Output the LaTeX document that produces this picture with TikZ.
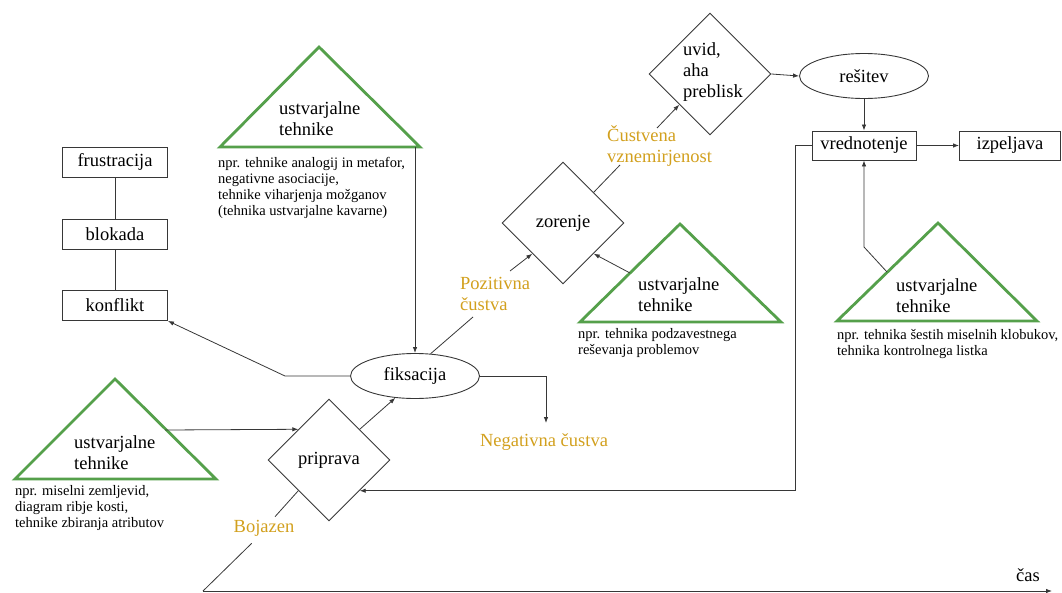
\documentclass[tikz,border=0pt]{standalone}
\usepackage{fontspec}
\setmainfont{Liberation Serif}
\newfontfamily\dfont{Liberation Serif}
\usetikzlibrary{shapes.geometric,arrows.meta}
\definecolor{gold}{RGB}{210,160,30}
\definecolor{tgreen}{RGB}{85,160,75}
\definecolor{ln}{RGB}{55,55,55}
\begin{document}
\begin{tikzpicture}[x=1pt,y=-1pt,
  mfont/.style={font=\dfont\fontsize{18.5}{21}\selectfont},
  box/.style={mfont, draw=ln, line width=0.9pt, rectangle, minimum width=105pt, minimum height=30pt, inner sep=0},
  ell/.style={mfont, draw=ln, line width=0.9pt, ellipse, minimum width=129pt, minimum height=45pt, inner sep=0},
  dia/.style={draw=ln, line width=0.9pt, diamond, minimum width=122pt, minimum height=122pt, inner sep=0},
  tri/.style={draw=tgreen, line width=2.8pt, line join=miter},
  conn/.style={draw=ln, line width=0.8pt},
  arr/.style={conn, -{Latex[length=6pt,width=4.5pt]}},
  glab/.style={mfont, text=gold},
  capt/.style={font=\dfont\fontsize{14.5}{16}\selectfont, align=left, anchor=west, inner sep=0},
  ttext/.style={mfont, align=left, anchor=west, inner sep=0}]
\path[use as bounding box] (0,0) rectangle (1062,592);

% boxes
\node[box] (frus) at (115,162) {frustracija};
\node[box] (blok) at (115,234) {blokada};
\node[box] (konf) at (115,305.5) {konflikt};
\node[ell] (fiks) at (415,376) {fiksacija};
\node[dia] (prip) at (329,460) {};
\node[mfont] (pript) at (329,460) {priprava};
\node[dia] (zor) at (563,223) {};
\node[mfont] (zort) at (563,223) {zorenje};
\node[dia] (uvid) at (710,74) {};
\node[ttext] (uvidt) at (683,72) {uvid,\\aha\\preblisk};
\node[ell] (res) at (864,76) {rešitev};
\node[box, minimum width=104pt, minimum height=29pt] (vred) at (864,145.5) {vrednotenje};
\node[box, minimum width=101pt, minimum height=29pt] (izp) at (1010,145.5) {izpeljava};

% triangles
\draw[tri] (319,47) -- (420,147) -- (220,147) -- cycle;
\node[ttext] (t1t) at (279,119) {ustvarjalne\\tehnike};
\node[capt] (t1c) at (218,187.5) {npr. tehnike analogij in metafor,\\negativne asociacije,\\tehnike viharjenja možganov\\(tehnika ustvarjalne kavarne)};

\draw[tri] (115,379) -- (216,479) -- (15,479) -- cycle;
\node[ttext] (t2t) at (74,453) {ustvarjalne\\tehnike};
\node[capt] (t2c) at (15,508) {npr. miselni zemljevid,\\diagram ribje kosti,\\tehnike zbiranja atributov};

\draw[tri] (680,224) -- (781,322) -- (580,322) -- cycle;
\node[ttext] (t3t) at (638,295) {ustvarjalne\\tehnike};
\node[capt] (t3c) at (578,343) {npr. tehnika podzavestnega\\reševanja problemov};

\draw[tri] (938,223) -- (1037,321) -- (837,321) -- cycle;
\node[ttext] (t4t) at (896,295.5) {ustvarjalne\\tehnike};
\node[capt] (t4c) at (837,344.5) {npr. tehnika šestih miselnih klobukov,\\tehnika kontrolnega listka};

% labels
\node[ttext, glab] (poz) at (460,294) {Pozitivna\\čustva};
\node[ttext, glab] (cus) at (607,146.5) {Čustvena\\vznemirjenost};
\node[glab] (neg) at (544,442) {Negativna čustva};
\node[glab] (boj) at (264,528) {Bojazen};
\node[mfont] (cas) at (1028,575) {čas};

% connectors
\draw[conn] (frus) -- (blok) -- (konf);
\coordinate (k1) at (285,376);
\draw[arr] (fiks.west) -- (k1) -- (konf.south east);
\coordinate (n1) at (546,376);
\coordinate (n2) at (546,423);
\draw[arr] (fiks.east) -- (n1) -- (n2);
\coordinate (t1b) at (415,147);
\draw[arr] (t1b) -- (fiks.north);
\coordinate (t2r) at (165,430);
\draw[arr] (t2r) -- (prip.north west);
\draw[arr] (prip.north east) -- (fiks.228);
\coordinate (p1) at (473,317);
\coordinate (p2) at (510,271);
\draw[conn] (fiks.55) -- (p1);
\draw[arr] (p2) -- (zor.south west);
\coordinate (c1) at (620,165);
\coordinate (c2) at (657,128);
\draw[conn] (zor.north east) -- (c1);
\draw[arr] (c2) -- (uvid.south west);
\coordinate (t3) at (630,273);
\draw[arr] (t3) -- (zor.south east);
\draw[arr] (uvid.east) -- (res.west);
\draw[arr] (res.south) -- (vred.north);
\draw[arr] (vred.east) -- (izp.west);
\coordinate (v1) at (795.5,145.5);
\draw[arr] (vred.west) -- (v1) |- (prip.south east);
\coordinate (t4) at (887,272);
\coordinate (t4b) at (864,247);
\draw[arr] (t4) -- (t4b) -- (vred.south);
\coordinate (a0) at (203,591);
\coordinate (b1) at (251.7,543.3);
\coordinate (b2) at (275,516.7);
\draw[conn] (a0) -- (b1);
\draw[conn] (b2) -- (prip.south west);
\coordinate (a1) at (1052,591);
\draw[arr] (a0) -- (a1);
\end{tikzpicture}
\end{document}
